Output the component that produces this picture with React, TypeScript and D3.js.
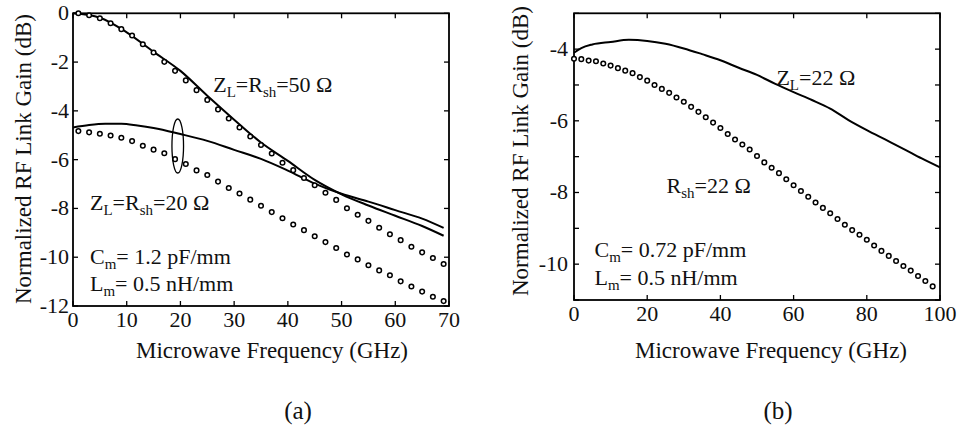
import React from "react";
import * as d3 from "d3";

const FONT = "Liberation Serif, Tinos, Times New Roman, DejaVu Serif, serif";

// ---------- Panel (a) ----------
const aLineFreq = [0, 5, 10, 15, 20, 25, 30, 35, 40, 45, 50, 55, 60, 65, 69];
const aLine50 = [0, -0.18, -0.78, -1.58, -2.36, -3.38, -4.36, -5.3, -6.05, -6.83, -7.42, -7.88, -8.3, -8.72, -9.12];
const aLine20Freq = [0, 3, 6, 9, 12, 15, 20, 25, 30, 35, 40, 45, 50, 55, 60, 65, 69];
const aLine20 = [-4.68, -4.58, -4.53, -4.53, -4.6, -4.7, -4.95, -5.23, -5.6, -5.97, -6.45, -6.98, -7.4, -7.72, -8.07, -8.42, -8.8];
const aDotFreq = [1, 3, 5, 7, 9, 11, 13, 15, 17, 19, 21, 23, 25, 27, 29, 31, 33, 35, 37, 39, 41, 43, 45, 47, 49, 51, 53, 55, 57, 59, 61, 63, 65, 67, 69];
const aDots50 = [0, -0.08, -0.2, -0.41, -0.65, -0.91, -1.27, -1.61, -1.99, -2.36, -2.75, -3.15, -3.55, -3.94, -4.31, -4.68, -5.05, -5.4, -5.75, -6.13, -6.43, -6.75, -7.05, -7.36, -7.65, -7.99, -8.26, -8.51, -8.79, -9.06, -9.3, -9.57, -9.8, -10.03, -10.28];
const aDots20 = [-4.83, -4.88, -4.94, -5.01, -5.1, -5.24, -5.43, -5.59, -5.74, -5.98, -6.18, -6.44, -6.63, -6.9, -7.16, -7.39, -7.64, -7.89, -8.15, -8.4, -8.66, -8.89, -9.14, -9.38, -9.62, -9.89, -10.09, -10.33, -10.54, -10.74, -10.99, -11.2, -11.41, -11.62, -11.8];
const aXTicks = [0, 10, 20, 30, 40, 50, 60, 70];
const aYTicks = [0, -2, -4, -6, -8, -10, -12];

// ---------- Panel (b) ----------
const bLineFreq = [0, 2, 5, 10, 15, 20, 25, 30, 35, 40, 45, 50, 55, 60, 65, 70, 75, 80, 85, 90, 95, 100];
const bLineZL = [-4.1, -3.97, -3.87, -3.8, -3.74, -3.77, -3.85, -3.98, -4.14, -4.31, -4.52, -4.72, -4.97, -5.2, -5.42, -5.66, -5.98, -6.26, -6.52, -6.78, -7.05, -7.3];
const bDotFreq = [0, 2, 4, 6, 8, 10, 12, 14, 16, 18, 20, 22, 24, 26, 28, 30, 32, 34, 36, 38, 40, 42, 44, 46, 48, 50, 52, 54, 56, 58, 60, 62, 64, 66, 68, 70, 72, 74, 76, 78, 80, 82, 84, 86, 88, 90, 92, 94, 96, 98];
const bDotsRsh = [-4.27, -4.28, -4.32, -4.34, -4.4, -4.46, -4.53, -4.6, -4.67, -4.78, -4.88, -5.0, -5.11, -5.22, -5.35, -5.47, -5.61, -5.75, -5.9, -6.05, -6.2, -6.37, -6.52, -6.66, -6.8, -6.98, -7.16, -7.31, -7.46, -7.63, -7.8, -7.96, -8.12, -8.28, -8.43, -8.58, -8.74, -8.9, -9.05, -9.18, -9.32, -9.48, -9.63, -9.77, -9.91, -10.05, -10.18, -10.33, -10.47, -10.62];
const bXTicks = [0, 20, 40, 60, 80, 100];
const bYTicks = [-3, -4, -5, -6, -7, -8, -9, -10, -11];
const bYLabels = [-4, -6, -8, -10];

const X_TITLE = "Microwave Frequency (GHz)";
const Y_TITLE = "Normalized RF Link Gain (dB)";

type Sub = { t: string; sub?: boolean };

const txt = (size: number) => ({ fontFamily: FONT, fontSize: size + "px", fill: "#111" });

function SubText({ x, y, parts, size = 22 }: { x: number; y: number; parts: Sub[]; size?: number }) {
  let prevSub = false;
  return (
    <text x={x} y={y} style={txt(size)}>
      {parts.map((p, i) => {
        const dy = p.sub && !prevSub ? 5 : !p.sub && prevSub ? -5 : 0;
        prevSub = !!p.sub;
        return (
          <tspan key={i} dy={dy} style={{ fontSize: (p.sub ? size * 0.68 : size) + "px" }}>
            {p.t}
          </tspan>
        );
      })}
    </text>
  );
}

function Frame({ x, y, xTicks, yTicks, yLabels, xt, yLabelX }: any) {
  const [x0, x1] = x.range();
  const [y0, y1] = y.range();
  const tl = 5;
  return (
    <g>
      <rect x={x0} y={y1} width={x1 - x0} height={y0 - y1} fill="none" stroke="#000" strokeWidth={1.8} />
      {xTicks.map((t: number) => (
        <g key={"x" + t}>
          <line x1={x(t)} x2={x(t)} y1={y0} y2={y0 - tl} stroke="#000" strokeWidth={1.3} />
          <line x1={x(t)} x2={x(t)} y1={y1} y2={y1 + tl} stroke="#000" strokeWidth={1.3} />
          <text x={x(t)} y={y0 + 21} textAnchor="middle" style={txt(22)}>
            {t}
          </text>
        </g>
      ))}
      {yTicks.map((t: number) => (
        <g key={"y" + t}>
          <line x1={x0} x2={x0 + tl} y1={y(t)} y2={y(t)} stroke="#000" strokeWidth={1.3} />
          <line x1={x1} x2={x1 - tl} y1={y(t)} y2={y(t)} stroke="#000" strokeWidth={1.3} />
        </g>
      ))}
      {yLabels.map((t: number) => (
        <text key={"yl" + t} x={yLabelX} y={y(t) + 7} textAnchor="end" style={txt(22)}>
          {String(t)}
        </text>
      ))}
      <text x={xt} y={358} textAnchor="middle" style={txt(23)}>
        {X_TITLE}
      </text>
    </g>
  );
}

export default function App() {
  const xa = d3.scaleLinear().domain([0, 70]).range([73, 449]);
  const ya = d3.scaleLinear().domain([-12, 0]).range([306, 13.3]);
  const xb = d3.scaleLinear().domain([0, 100]).range([574, 940]);
  const yb = d3.scaleLinear().domain([-11, -3]).range([300, 13.3]);

  const lineA = d3
    .line<[number, number]>()
    .x((d) => xa(d[0]))
    .y((d) => ya(d[1]))
    .curve(d3.curveMonotoneX);
  const lineB = d3
    .line<[number, number]>()
    .x((d) => xb(d[0]))
    .y((d) => yb(d[1]))
    .curve(d3.curveMonotoneX);

  const a50 = aLineFreq.map((f, i) => [f, aLine50[i]] as [number, number]);
  const a20 = aLine20Freq.map((f, i) => [f, aLine20[i]] as [number, number]);
  const bZ = bLineFreq.map((f, i) => [f, bLineZL[i]] as [number, number]);

  const dotStyle = { fill: "#fff", stroke: "#000", strokeWidth: 1.5 };

  return (
    <svg width={958} height={431} style={{ position: "absolute", left: 0, top: 0, background: "#fff" }}>
      <rect width={958} height={431} fill="#fff" />
      {/* Panel (a) */}
      <Frame x={xa} y={ya} xTicks={aXTicks} yTicks={aYTicks} yLabels={aYTicks} xt={272} yLabelX={69} />
      <path d={lineA(a50) || ""} fill="none" stroke="#000" strokeWidth={2} />
      <path d={lineA(a20) || ""} fill="none" stroke="#000" strokeWidth={2} />
      {aDotFreq.map((f, i) => (
        <circle key={"a50" + i} cx={xa(f)} cy={ya(aDots50[i])} r={2.3} {...dotStyle} />
      ))}
      {aDotFreq.map((f, i) => (
        <circle key={"a20" + i} cx={xa(f)} cy={ya(aDots20[i])} r={2.3} {...dotStyle} />
      ))}
      <ellipse cx={xa(19.5)} cy={ya(-5.44)} rx={5.8} ry={27} fill="none" stroke="#000" strokeWidth={1.3} />
      <SubText x={xa(26.1)} y={ya(-3.22)} parts={[{ t: "Z" }, { t: "L", sub: true }, { t: "=R" }, { t: "sh", sub: true }, { t: "=50 Ω" }]} />
      <SubText x={xa(3.17)} y={ya(-8.05)} parts={[{ t: "Z" }, { t: "L", sub: true }, { t: "=R" }, { t: "sh", sub: true }, { t: "=20 Ω" }]} />
      <SubText x={xa(3.17)} y={ya(-10.29)} parts={[{ t: "C" }, { t: "m", sub: true }, { t: "= 1.2 pF/mm" }]} />
      <SubText x={xa(3.17)} y={ya(-11.4)} parts={[{ t: "L" }, { t: "m", sub: true }, { t: "= 0.5 nH/mm" }]} />
      <text transform={`translate(31,159) rotate(-90)`} textAnchor="middle" style={txt(23)}>
        {Y_TITLE}
      </text>
      <text x={298} y={419} textAnchor="middle" style={txt(25)}>
        (a)
      </text>

      {/* Panel (b) */}
      <Frame x={xb} y={yb} xTicks={bXTicks} yTicks={bYTicks} yLabels={bYLabels} xt={771} yLabelX={568} />
      <path d={lineB(bZ) || ""} fill="none" stroke="#000" strokeWidth={2} />
      {bDotFreq.map((f, i) => (
        <circle key={"b" + i} cx={xb(f)} cy={yb(bDotsRsh[i])} r={2.3} {...dotStyle} />
      ))}
      <SubText x={xb(55.3)} y={yb(-5.0)} parts={[{ t: "Z" }, { t: "L", sub: true }, { t: "=22 Ω" }]} />
      <SubText x={xb(25.3)} y={yb(-8.01)} parts={[{ t: "R" }, { t: "sh", sub: true }, { t: "=22 Ω" }]} />
      <SubText x={xb(5.6)} y={yb(-9.8)} parts={[{ t: "C" }, { t: "m", sub: true }, { t: "= 0.72 pF/mm" }]} />
      <SubText x={xb(5.6)} y={yb(-10.58)} parts={[{ t: "L" }, { t: "m", sub: true }, { t: "= 0.5 nH/mm" }]} />
      <text transform={`translate(528,151) rotate(-90)`} textAnchor="middle" style={txt(23)}>
        {Y_TITLE}
      </text>
      <text x={778} y={419} textAnchor="middle" style={txt(25)}>
        (b)
      </text>
    </svg>
  );
}
